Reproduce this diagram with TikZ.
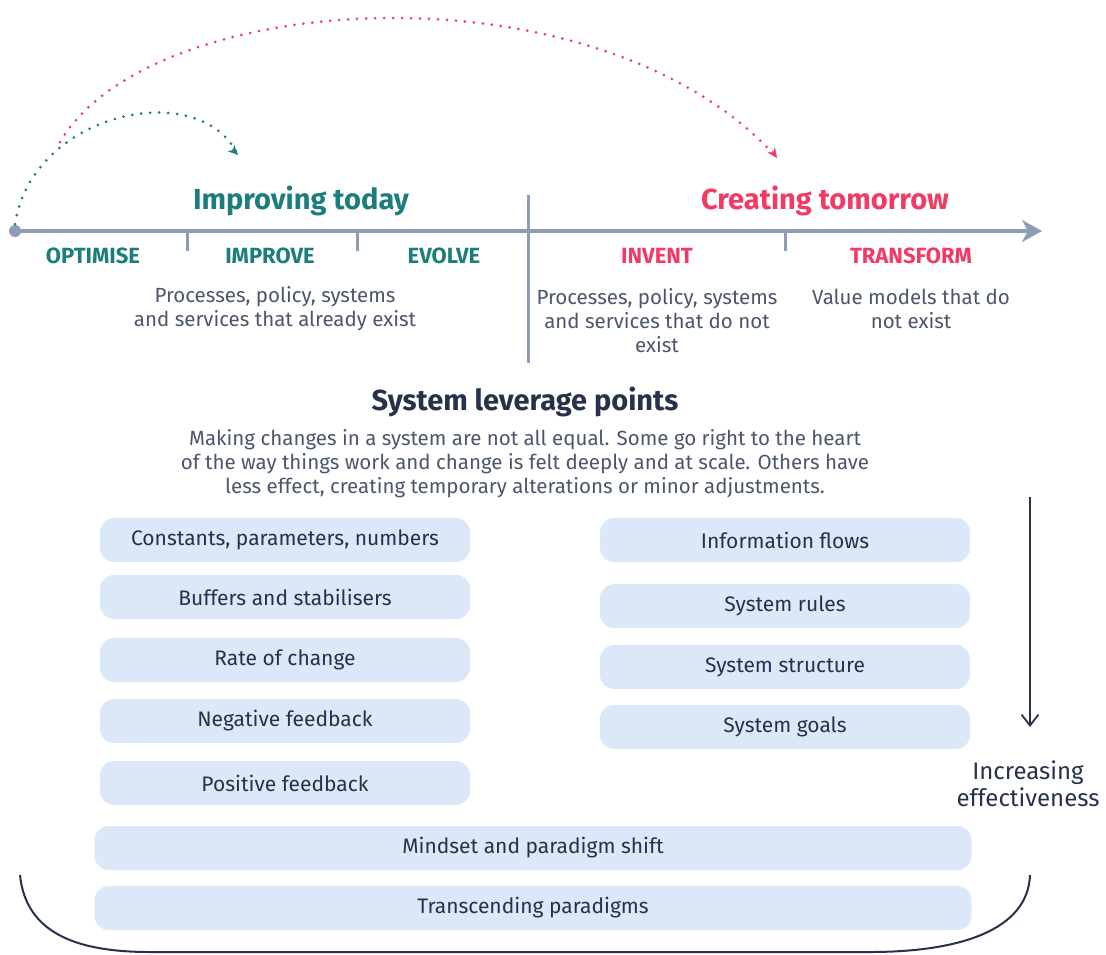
\documentclass[tikz,border=0pt]{standalone}
\usepackage{fontspec}
\setmainfont{Fira Sans}
\usetikzlibrary{arrows.meta}

\definecolor{tealc}{HTML}{1B7E7B}
\definecolor{pinkc}{HTML}{F23A64}
\definecolor{axisc}{HTML}{8C9DB5}
\definecolor{navyc}{HTML}{27324A}
\definecolor{textc}{HTML}{4B566B}
\definecolor{boxc}{HTML}{DAE8F7}

\tikzset{
  lever/.style={fill=boxc, rounded corners=14pt, minimum height=44pt, minimum width=370pt,
    inner sep=0pt, text=navyc, font=\fontsize{21}{24}\selectfont},
  wide/.style={lever, minimum width=877pt},
  phase/.style={font=\bfseries\fontsize{22}{25}\selectfont},
  heading/.style={font=\bfseries\fontsize{29}{33}\selectfont},
  blurb/.style={text=textc, align=center, font=\fontsize{20.5}{24}\selectfont},
  dots/.style={line width=3pt, line cap=round, dash pattern=on 0pt off 9pt},
}

\begin{document}
\begin{tikzpicture}[x=1pt,y=-1pt]
    \useasboundingbox (0,0) rectangle (1106,954);

    % Draw the timeline
    \coordinate (start) at (15,231);
    \coordinate (end) at (1042,231);
    \draw[axisc, line width=4pt, -{Stealth[length=20pt,width=22pt,inset=6pt]}] (start) -- (end);
    \fill[axisc] (start) circle (6pt);
    \foreach \x in {187,357,785}
        \draw[axisc, line width=3pt] (\x,231) -- (\x,251);
    \draw[axisc, line width=3pt] (528,195) -- (528,363);

    % Dotted jumps
    \coordinate (tealend) at (238,155);
    \coordinate (pinkstart) at (60,142);
    \coordinate (pinkend) at (777,158);
    \draw[dots, tealc] (15,224) .. controls (32,112) and (200,76) .. (tealend);
    \draw[tealc, -{Stealth[length=10pt,width=9pt]}] (232,149) -- (tealend);
    \draw[dots, pinkc] (pinkstart) .. controls (150,-12) and (600,-40) .. (pinkend);
    \draw[pinkc, -{Stealth[length=10pt,width=9pt]}] (772,151) -- (pinkend);

    % Label the phases
    \node[heading, text=tealc] (today) at (301,201) {Improving today};
    \node[heading, text=pinkc] (tomorrow) at (825,201) {Creating tomorrow};
    \node[phase, text=tealc] (optimise) at (93,256) {OPTIMISE};
    \node[phase, text=tealc] (improve) at (270,256) {IMPROVE};
    \node[phase, text=tealc] (evolve) at (444,256) {EVOLVE};
    \node[phase, text=pinkc] (invent) at (657,256) {INVENT};
    \node[phase, text=pinkc] (transform) at (911,256) {TRANSFORM};

    \node[blurb] (exist) at (275,309) {Processes, policy, systems\\and services that already exist};
    \node[blurb] (notexist) at (657,321) {Processes, policy, systems\\and services that do not\\exist};
    \node[blurb] (value) at (911,309) {Value models that do\\not exist};

    % Leverage points
    \node[heading, text=navyc] (leverage) at (525,402) {System leverage points};
    \node[blurb] (intro) at (525,464) {Making changes in a system are not all equal. Some go right to the heart\\of the way things work and change is felt deeply and at scale. Others have\\less effect, creating temporary alterations or minor adjustments.};

    \node[lever] (constants) at (285,540) {Constants, parameters, numbers};
    \node[lever] (buffers) at (285,597) {Buffers and stabilisers};
    \node[lever] (rate) at (285,660) {Rate of change};
    \node[lever] (negative) at (285,721) {Negative feedback};
    \node[lever] (positive) at (285,783) {Positive feedback};

    \node[lever] (info) at (785,540) {Information flows};
    \node[lever] (rules) at (785,606) {System rules};
    \node[lever] (structure) at (785,667) {System structure};
    \node[lever] (goals) at (785,727) {System goals};

    \node[wide] (mindset) at (533,848) {Mindset and paradigm shift};
    \node[wide] (transcend) at (533,908) {Transcending paradigms};

    % Effectiveness arrow
    \coordinate (top) at (1030,497);
    \coordinate (bottom) at (1030,727);
    \draw[navyc, line width=1.8pt, -{Straight Barb[length=11pt,width=17pt]}] (top) -- (bottom);
    \node[blurb, text=navyc, font=\fontsize{24}{27}\selectfont] (effect) at (1028,784) {Increasing\\effectiveness};

    % Bracket underneath
    \draw[navyc, line width=2pt] (20,875) .. controls (26,935) and (80,952) .. (150,952)
        -- (870,952) .. controls (960,952) and (1028,930) .. (1030,875);

\end{tikzpicture}
\end{document}
